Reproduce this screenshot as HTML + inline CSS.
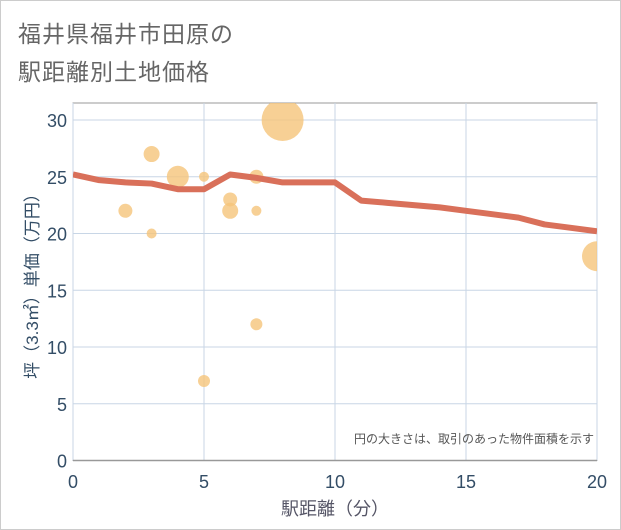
<!DOCTYPE html>
<html><head><meta charset="utf-8"><style>
body{margin:0;background:#fff}
#c{position:relative;width:619px;height:528px;border:1px solid #ccc;background:#fff;overflow:hidden;font-family:"Liberation Sans","Noto Sans CJK JP",sans-serif}
.t{position:absolute;left:17px;color:#666;font-size:23px;letter-spacing:1px}
</style></head><body>
<div id="c">
<div class="t" style="top:14px">福井県福井市田原の</div>
<div class="t" style="top:52px">駅距離別土地価格</div>
<svg id="s" width="621" height="530" style="position:absolute;left:-1px;top:-1px"><defs><clipPath id="pc"><rect x="73" y="103" width="524" height="357.5"/></clipPath></defs></svg>
</div>
<script>
const xTicks=[0,5,10,15,20];
const yTicks=[0,5,10,15,20,25,30];
const bubX=[2,3,3,4,5,5,6,6,7,7,7,8,20];
const bubY=[22,27,20,25,25,7,23,22,25,22,12,30,18];
const bubR=[7,8,5,11,5,6,7,8,7,5,6,21,15];
const lineX=[0,1,2,3,4,5,6,7,8,9,10,11,12,13,14,15,16,17,18,19,20];
const lineY=[25.2,24.7,24.5,24.4,23.9,23.9,25.2,24.9,24.5,24.5,24.5,22.9,22.7,22.5,22.3,22.0,21.7,21.4,20.8,20.5,20.2];
const NS='http://www.w3.org/2000/svg';
const svg=document.getElementById('s');
const L=73,R=597,T=103,B=460.5;
const xs=v=>L+(v-0)/20*(R-L);
const ys=v=>B-v/30*(B-120);
function mk(t,a,par){const e=document.createElementNS(NS,t);for(const k in a)e.setAttribute(k,a[k]);(par||svg).appendChild(e);return e;}
const bg=mk('rect',{x:L,y:T,width:R-L,height:B-T,fill:'#fff',stroke:'#999','stroke-width':1});


xTicks.forEach(v=>{
 const g=mk('line',{x1:xs(v),x2:xs(v),y1:T,y2:B,stroke:'#c8d6e6','stroke-width':1});
 
 
 const t=mk('text',{x:xs(v),y:488,'text-anchor':'middle','font-size':18,fill:'#334d66'});
 t.textContent=v;
 
 
});
yTicks.forEach(v=>{
 const g=mk('line',{x1:L,x2:R,y1:ys(v),y2:ys(v),stroke:'#c8d6e6','stroke-width':1});
 
 
 const t=mk('text',{x:67,y:ys(v)+7,'text-anchor':'end','font-size':18,fill:'#334d66'});
 t.textContent=v;
 
 
});
const ax=mk('line',{x1:L,x2:R,y1:B,y2:B,stroke:'#999','stroke-width':1.5});


const g=mk('g',{'clip-path':'url(#pc)'});


bubX.forEach((x,i)=>{
 const c=mk('circle',{cx:xs(x),cy:ys(bubY[i]),r:bubR[i],fill:'#f5c47a','fill-opacity':0.8},g);
 
 
});
const p=mk('polyline',{points:lineX.map((x,i)=>xs(x)+','+ys(lineY[i])).join(' '),fill:'none',stroke:'#d9705a','stroke-width':6,'stroke-linejoin':'round'},g);


const n=mk('text',{x:594,y:443,'text-anchor':'end','font-size':12,fill:'#555'});
n.textContent='円の大きさは、取引のあった物件面積を示す';


const xt=mk('text',{x:335,y:515,'text-anchor':'middle','font-size':18,fill:'#556'});
xt.textContent='駅距離（分）';


const yt=mk('text',{x:0,y:0,'text-anchor':'middle','font-size':17,fill:'#334d66',transform:'translate(38,282) rotate(-90)'});
yt.textContent='坪（3.3㎡）単価（万円）';


</script>
</body></html>
